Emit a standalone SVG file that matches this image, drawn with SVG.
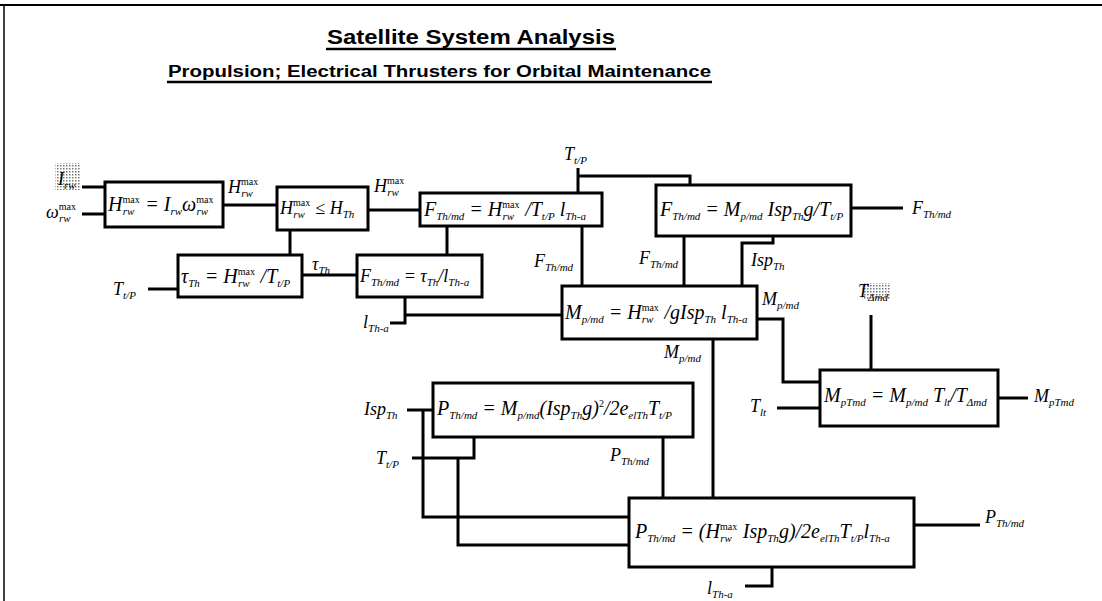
<svg xmlns="http://www.w3.org/2000/svg" width="1102" height="601" viewBox="0 0 1102 601">
<style>
.box{fill:#fff;stroke:#000;stroke-width:3}
.ln{fill:none;stroke:#000;stroke-width:3}
.m{font-family:"Liberation Serif",serif;font-style:italic;font-size:20px;fill:#000}
.m.s{font-size:18px}
.l{font-family:"Liberation Serif",serif;font-style:italic;font-size:18px;fill:#000}
.sb{font-size:11px;baseline-shift:-4px}
.sp{font-size:10px;font-style:normal;baseline-shift:8px}
.t{font-family:"Liberation Sans",Arial,sans-serif;font-weight:bold;fill:#000}
</style>
<defs>
<pattern id="stip" width="3" height="3" patternUnits="userSpaceOnUse">
<rect width="3" height="3" fill="#fff"/>
<rect width="1.5" height="1.5" fill="#777"/>
</pattern>
</defs>
<rect width="1102" height="601" fill="#fff"/>
<g id="frame">
<line x1="0" y1="5" x2="1102" y2="5" stroke="#000" stroke-width="2"/>
<line x1="4" y1="5" x2="4" y2="601" stroke="#000" stroke-width="1.5"/>
</g>
<g id="title">
<text class="t" x="327" y="44" font-size="20" textLength="288" lengthAdjust="spacingAndGlyphs">Satellite System Analysis</text>
<line x1="326" y1="49" x2="616" y2="49" stroke="#000" stroke-width="2.5"/>
<text class="t" x="168" y="77" font-size="16" textLength="543" lengthAdjust="spacingAndGlyphs">Propulsion; Electrical Thrusters for Orbital Maintenance</text>
<line x1="167" y1="82" x2="712" y2="82" stroke="#000" stroke-width="2.5"/>
</g>
<g id="connectors">
<path class="ln" d="M82 187H105M82 214H105"/>
<path class="ln" d="M223 205H277"/>
<path class="ln" d="M368 210H420"/>
<path class="ln" d="M290 230V255"/>
<path class="ln" d="M148 289H178"/>
<path class="ln" d="M302 275H357"/>
<path class="ln" d="M447 226V255"/>
<path class="ln" d="M390 323H405V297M405 315H562"/>
<path class="ln" d="M578 168V193M578 176H690V185"/>
<path class="ln" d="M582 226V286"/>
<path class="ln" d="M684 236V286"/>
<path class="ln" d="M773 236V243H742V286"/>
<path class="ln" d="M851 208H903"/>
<path class="ln" d="M757 319H783V382H820"/>
<path class="ln" d="M871 315V370"/>
<path class="ln" d="M777 408H820"/>
<path class="ln" d="M998 398H1028"/>
<path class="ln" d="M713 339V498"/>
<path class="ln" d="M407 410H433M423 410V517H629"/>
<path class="ln" d="M412 458H474V437M458 458V545H629"/>
<path class="ln" d="M663 437V498"/>
<path class="ln" d="M914 525H980"/>
<path class="ln" d="M772 567V586H745"/>
</g>
<g id="labels">
<rect x="55" y="163" width="25" height="27" fill="url(#stip)"/>
<text class="l" x="58" y="185">I<tspan class="sb">rw</tspan></text>
<text class="l" x="46" y="218">ω<tspan class="sp">max</tspan><tspan class="sb" dx="-17">rw</tspan></text>
<text class="l" x="228" y="193">H<tspan class="sp">max</tspan><tspan class="sb" dx="-17">rw</tspan></text>
<text class="l" x="374" y="192">H<tspan class="sp">max</tspan><tspan class="sb" dx="-17">rw</tspan></text>
<text class="l" x="312" y="270">τ<tspan class="sb">Th</tspan></text>
<text class="l" x="113" y="295">T<tspan class="sb">t/P</tspan></text>
<text class="l" x="363" y="328">l<tspan class="sb">Th-a</tspan></text>
<text class="l" x="564" y="160">T<tspan class="sb">t/P</tspan></text>
<text class="l" x="534" y="267">F<tspan class="sb">Th/md</tspan></text>
<text class="l" x="639" y="264">F<tspan class="sb">Th/md</tspan></text>
<text class="l" x="751" y="266">Isp<tspan class="sb">Th</tspan></text>
<text class="l" x="912" y="214">F<tspan class="sb">Th/md</tspan></text>
<text class="l" x="762" y="305">M<tspan class="sb">p/md</tspan></text>
<text class="l" x="664" y="358">M<tspan class="sb">p/md</tspan></text>
<rect x="862" y="283" width="28" height="17" fill="url(#stip)"/>
<text class="l" x="858" y="297">T<tspan class="sb">Δmd</tspan></text>
<text class="l" x="750" y="412">T<tspan class="sb">lt</tspan></text>
<text class="l" x="1034" y="402">M<tspan class="sb">pTmd</tspan></text>
<text class="l" x="364" y="415">Isp<tspan class="sb">Th</tspan></text>
<text class="l" x="376" y="464">T<tspan class="sb">t/P</tspan></text>
<text class="l" x="610" y="461">P<tspan class="sb">Th/md</tspan></text>
<text class="l" x="985" y="523">P<tspan class="sb">Th/md</tspan></text>
<text class="l" x="707" y="594">l<tspan class="sb">Th-a</tspan></text>
</g>
<g id="nodeA">
<rect class="box" x="105" y="182" width="118" height="45"/>
<text class="m" x="108" y="211">H<tspan class="sp">max</tspan><tspan class="sb" dx="-17">rw</tspan><tspan dx="6"> = I</tspan><tspan class="sb">rw</tspan>ω<tspan class="sp">max</tspan><tspan class="sb" dx="-17">rw</tspan></text>
</g>
<g id="nodeB">
<rect class="box" x="277" y="187" width="91" height="43"/>
<text class="m s" x="280" y="214">H<tspan class="sp">max</tspan><tspan class="sb" dx="-17">rw</tspan><tspan dx="6"> ≤ H</tspan><tspan class="sb">Th</tspan></text>
</g>
<g id="nodeC">
<rect class="box" x="178" y="255" width="124" height="42"/>
<text class="m" x="181" y="283">τ<tspan class="sb">Th</tspan> = H<tspan class="sp">max</tspan><tspan class="sb" dx="-17">rw</tspan><tspan dx="6"> /T</tspan><tspan class="sb">t/P</tspan></text>
</g>
<g id="nodeD">
<rect class="box" x="357" y="255" width="125" height="42"/>
<text class="m s" x="360" y="282">F<tspan class="sb">Th/md</tspan> = τ<tspan class="sb">Th</tspan>/l<tspan class="sb">Th-a</tspan></text>
</g>
<g id="nodeE">
<rect class="box" x="420" y="193" width="182" height="33"/>
<text class="m" x="424" y="216">F<tspan class="sb">Th/md</tspan> = H<tspan class="sp">max</tspan><tspan class="sb" dx="-17">rw</tspan><tspan dx="6"> /T</tspan><tspan class="sb">t/P</tspan> l<tspan class="sb">Th-a</tspan></text>
</g>
<g id="nodeF">
<rect class="box" x="656" y="185" width="195" height="51"/>
<text class="m" x="660" y="216">F<tspan class="sb">Th/md</tspan> = M<tspan class="sb">p/md</tspan> Isp<tspan class="sb">Th</tspan>g/T<tspan class="sb">t/P</tspan></text>
</g>
<g id="nodeM">
<rect class="box" x="562" y="286" width="195" height="53"/>
<text class="m" x="565" y="319">M<tspan class="sb">p/md</tspan> = H<tspan class="sp">max</tspan><tspan class="sb" dx="-17">rw</tspan><tspan dx="6"> /gIsp</tspan><tspan class="sb">Th</tspan> l<tspan class="sb">Th-a</tspan></text>
</g>
<g id="nodeMT">
<rect class="box" x="820" y="370" width="178" height="56"/>
<text class="m" x="824" y="402">M<tspan class="sb">pTmd</tspan> = M<tspan class="sb">p/md</tspan> T<tspan class="sb">lt</tspan>/T<tspan class="sb">Δmd</tspan></text>
</g>
<g id="nodeP1">
<rect class="box" x="433" y="383" width="260" height="54"/>
<text class="m" x="437" y="415">P<tspan class="sb">Th/md</tspan> = M<tspan class="sb">p/md</tspan>(Isp<tspan class="sb">Th</tspan>g)<tspan class="sp">2</tspan>/2e<tspan class="sb">elTh</tspan>T<tspan class="sb">t/P</tspan></text>
</g>
<g id="nodeP2">
<rect class="box" x="629" y="498" width="285" height="69"/>
<text class="m" x="635" y="538">P<tspan class="sb">Th/md</tspan> = (H<tspan class="sp">max</tspan><tspan class="sb" dx="-17">rw</tspan><tspan dx="6"> Isp</tspan><tspan class="sb">Th</tspan>g)/2e<tspan class="sb">elTh</tspan>T<tspan class="sb">t/P</tspan>l<tspan class="sb">Th-a</tspan></text>
</g>
</svg>
